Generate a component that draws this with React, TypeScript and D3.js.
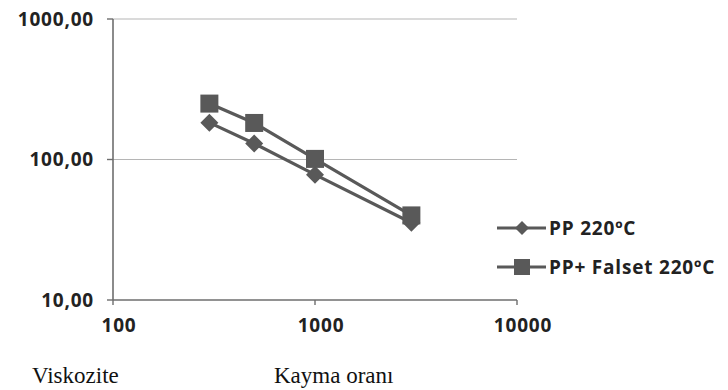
import React from "react";
import * as d3 from "d3";

const shearRates = [300, 500, 1000, 3000];
const ppValues = [183, 130, 78, 35.5];
const ppFalsetValues = [250, 182, 101, 40];
const seriesNames = ["PP 220ºC", "PP+ Falset 220ºC"];
const yTicks = [10, 100, 1000];
const xTicks = [100, 1000, 10000];

const W = 728, H = 390;
const x = d3.scaleLog().domain([100, 10000]).range([113, 517]);
const y = d3.scaleLog().domain([10, 1000]).range([300, 19]);
const color = "#595959";
const font = "'Open Sans', 'DejaVu Sans', sans-serif";
const serif = "'Liberation Serif', 'DejaVu Serif', serif";

const fmt = (v: number) => v.toFixed(2).replace(".", ",");

export default function App() {
  const line = d3.line<number>().x((_, i) => x(shearRates[i])).y((d) => y(d));
  const diamond = (cx: number, cy: number, r: number) =>
    `M${cx},${cy - r}L${cx + r},${cy}L${cx},${cy + r}L${cx - r},${cy}Z`;
  const tickText = { fontFamily: font, fontSize: 19, fontWeight: 700, fill: "#222", letterSpacing: 0.8 } as const;
  return (
    <svg width={W} height={H} style={{ position: "absolute", left: 0, top: 0, background: "#fff" }}>
      {yTicks.filter((t) => t > 10).map((t) => (
        <line key={t} x1={113} x2={517} y1={y(t)} y2={y(t)} stroke="#b5b5b5" strokeWidth={1.2} />
      ))}
      <line x1={113} x2={113} y1={y(1000)} y2={y(10)} stroke="#6e6e6e" strokeWidth={1.6} />
      <line x1={113} x2={517} y1={y(10)} y2={y(10)} stroke="#6e6e6e" strokeWidth={1.6} />
      {yTicks.map((t) => (
        <g key={t}>
          <line x1={107} x2={113} y1={y(t)} y2={y(t)} stroke="#6e6e6e" strokeWidth={1.4} />
          <text x={94} y={y(t)} dy="0.35em" textAnchor="end" {...tickText}>
            {fmt(t)}
          </text>
        </g>
      ))}
      {xTicks.map((t) => (
        <g key={t}>
          <line x1={x(t)} x2={x(t)} y1={y(10)} y2={y(10) + 5} stroke="#6e6e6e" strokeWidth={1.4} />
          <text x={x(t) + 6} y={325} dy="0.35em" textAnchor="middle" {...tickText}>
            {t}
          </text>
        </g>
      ))}
      <path d={line(ppFalsetValues) || ""} fill="none" stroke={color} strokeWidth={3.2} />
      <path d={line(ppValues) || ""} fill="none" stroke={color} strokeWidth={3.2} />
      {ppValues.map((v, i) => (
        <path key={"d" + i} d={diamond(x(shearRates[i]), y(v), 9)} fill={color} />
      ))}
      {ppFalsetValues.map((v, i) => (
        <rect key={"s" + i} x={x(shearRates[i]) - 9} y={y(v) - 9} width={18} height={18} fill={color} />
      ))}
      <g>
        <line x1={497} x2={546} y1={228} y2={228} stroke={color} strokeWidth={3.2} />
        <path d={diamond(522, 228, 7)} fill={color} />
        <text x={549} y={228} dy="0.35em" {...tickText}>{seriesNames[0]}</text>
        <line x1={497} x2={546} y1={267} y2={267} stroke={color} strokeWidth={3.2} />
        <rect x={514} y={259} width={16} height={16} fill={color} />
        <text x={549} y={267} dy="0.35em" {...tickText}>{seriesNames[1]}</text>
      </g>
      <text x={32} y={383} fontFamily={serif} fontSize={23} fill="#111">Viskozite</text>
      <text x={274} y={383} fontFamily={serif} fontSize={23} fill="#111">Kayma oranı</text>
    </svg>
  );
}
